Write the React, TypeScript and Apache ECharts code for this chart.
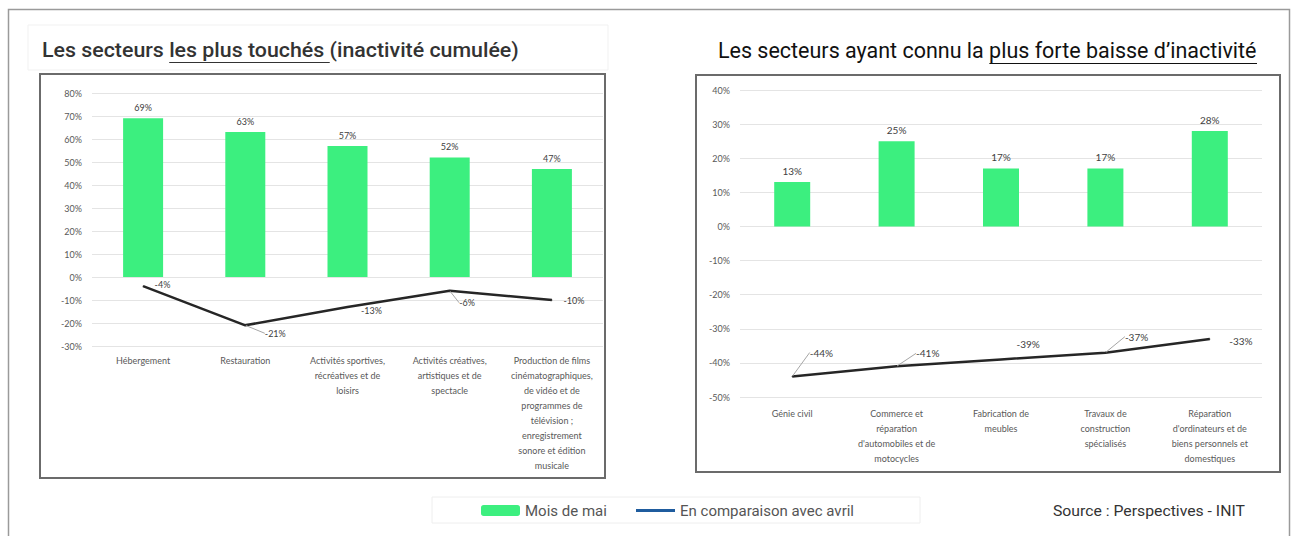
import React, { useEffect, useRef } from "react";
import * as echarts from "echarts";

const catsLeft = [
  "Hébergement",
  "Restauration",
  "Activités sportives,\nrécréatives et de\nloisirs",
  "Activités créatives,\nartistiques et de\nspectacle",
  "Production de films\ncinématographiques,\nde vidéo et de\nprogrammes de\ntélévision ;\nenregistrement\nsonore et édition\nmusicale",
];
const barLeft = [69, 63, 57, 52, 47];
const lineLeft = [-4, -21, -13, -6, -10];

const catsRight = [
  "Génie civil",
  "Commerce et\nréparation\nd'automobiles et de\nmotocycles",
  "Fabrication de\nmeubles",
  "Travaux de\nconstruction\nspécialisés",
  "Réparation\nd'ordinateurs et de\nbiens personnels et\ndomestiques",
];
const barRight = [13, 25, 17, 17, 28];
const lineRight = [-44, -41, -39, -37, -33];

const barName = "Mois de mai";
const lineName = "En comparaison avec avril";
const titleLeftParts = ["Les secteurs ", "les plus touchés ", "(inactivité cumulée)"];
const titleRightParts = ["Les secteurs ayant connu la ", "plus forte baisse d’inactivité"];
const sourceText = "Source : Perspectives - INIT";

// label displacement (style only)
const leftLabelShift = [[6, -2], [14, 8], [8, 4], [4, 12], [6, 0]];
const leftGuide = [false, true, false, true, false];
const rightLabelShift = [[12, -24], [14, -13], [10, -15], [14, -16], [14, 2]];
const rightGuide = [true, true, false, true, false];

const GREEN = "#3cef7f";
const LINE = "#262626";
const FONT = "Lato";

function measure(text: string, font: string) {
  const c = document.createElement("canvas").getContext("2d")!;
  c.font = font;
  return c.measureText(text).width;
}

export default function App() {
  const ref = useRef<HTMLDivElement>(null);
  useEffect(() => {
    if (!ref.current) return;
    const chart = echarts.init(ref.current, null, { renderer: "svg" });

    const tFont = (w: number, s: number) => `${w} ${s}px Roboto`;
    const ltSize = 21, ltW = 500;
    const ltFull = titleLeftParts.join("");
    const ltScale = 477 / measure(ltFull, tFont(ltW, ltSize));
    const ltU0 = 42 + measure(titleLeftParts[0], tFont(ltW, ltSize)) * ltScale;
    const ltU1 = 42 + measure(titleLeftParts[0] + titleLeftParts[1], tFont(ltW, ltSize)) * ltScale;
    const rtSize = 22, rtW = 400;
    const rtFull = titleRightParts.join("");
    const rtScale = 539 / measure(rtFull, tFont(rtW, rtSize));
    const rtU0 = 718 + measure(titleRightParts[0], tFont(rtW, rtSize)) * rtScale;
    const rtU1 = 718 + measure(rtFull, tFont(rtW, rtSize)) * rtScale;
    const srcSize = 14;
    const srcScale = 192 / measure(sourceText, tFont(400, srcSize));

    const axisLabel = {
      interval: 0,
      fontSize: 9,
      lineHeight: 15,
      color: "#595959",
      fontFamily: FONT,
    };

    const lineSeries = (
      idx: number,
      values: number[],
      shift: number[][],
      guide: boolean[],
      fs: number
    ) => ({
      type: "line",
      name: lineName,
      xAxisIndex: idx,
      yAxisIndex: idx,
      color: LINE,
      symbol: "circle",
      symbolSize: 1,
      showSymbol: true,
      itemStyle: { color: LINE },
      lineStyle: { color: LINE, width: 2.5 },
      data: values.map((v, i) => ({
        value: v,
        labelLine: { show: guide[i] },
      })),
      label: {
        show: true,
        position: "right",
        distance: 5,
        formatter: "{c}%",
        fontSize: fs,
        fontFamily: FONT,
        color: "#404040",
      },
      labelLine: { show: true, lineStyle: { color: "#a6a6a6", width: 1 } },
      labelLayout: (p: any) => ({ dx: shift[p.dataIndex][0], dy: shift[p.dataIndex][1] }),
      z: 3,
    });

    const barSeries = (idx: number, values: number[], width: number, fs: number) => ({
      type: "bar",
      name: barName,
      xAxisIndex: idx,
      yAxisIndex: idx,
      barWidth: width,
      data: values,
      itemStyle: { color: GREEN },
      label: {
        show: true,
        position: "top",
        distance: 6,
        formatter: "{c}%",
        fontSize: fs,
        fontFamily: FONT,
        color: "#404040",
      },
    });

    chart.setOption({
      animation: false,
      grid: [
        { left: 92, top: 93, width: 511, height: 253 },
        { left: 740, top: 90, width: 522, height: 307 },
      ],
      xAxis: [
        {
          type: "category",
          gridIndex: 0,
          data: catsLeft,
          axisLine: { show: false, onZero: false },
          axisTick: { show: false },
          axisLabel: { ...axisLabel, margin: 7 },
        },
        {
          type: "category",
          gridIndex: 1,
          data: catsRight,
          axisLine: { show: false, onZero: false },
          axisTick: { show: false },
          axisLabel: { ...axisLabel, margin: 9 },
        },
      ],
      yAxis: [
        {
          type: "value",
          gridIndex: 0,
          min: -30,
          max: 80,
          interval: 10,
          axisLabel: { formatter: "{value}%", fontSize: 9, color: "#595959", fontFamily: FONT, margin: 10 },
          splitLine: { lineStyle: { color: "#e4e4e4", width: 1 } },
          axisLine: { show: false },
          axisTick: { show: false },
        },
        {
          type: "value",
          gridIndex: 1,
          min: -50,
          max: 40,
          interval: 10,
          axisLabel: { formatter: "{value}%", fontSize: 9, color: "#595959", fontFamily: FONT, margin: 10 },
          splitLine: { lineStyle: { color: "#e4e4e4", width: 1 } },
          axisLine: { show: false },
          axisTick: { show: false },
        },
      ],
      legend: [
        {
          data: [barName],
          left: 476,
          top: 498,
          itemWidth: 39,
          itemHeight: 11,
          selectedMode: false,
          textStyle: { fontSize: 15, color: "#555", fontFamily: "Roboto" },
        },
        {
          data: [lineName],
          left: 631,
          top: 498,
          icon: "rect",
          itemWidth: 39,
          itemHeight: 3,
          selectedMode: false,
          itemStyle: { color: "#1f5c9e" },
          textStyle: { fontSize: 15, color: "#555", fontFamily: "Roboto" },
        },
      ],
      graphic: [
        {
          type: "rect",
          silent: true,
          shape: { x: 8.5, y: 9.5, width: 1281, height: 540 },
          style: { fill: "none", stroke: "#9a9a9a", lineWidth: 1.5 },
        },
        {
          type: "rect",
          silent: true,
          shape: { x: 28, y: 25, width: 580, height: 45 },
          style: { fill: "none", stroke: "#f1f1f1", lineWidth: 1 },
        },
        {
          type: "rect",
          silent: true,
          shape: { x: 40, y: 74, width: 565, height: 404 },
          style: { fill: "none", stroke: "#6b6b6b", lineWidth: 2 },
        },
        {
          type: "rect",
          silent: true,
          shape: { x: 696, y: 75, width: 584, height: 397 },
          style: { fill: "none", stroke: "#6b6b6b", lineWidth: 2 },
        },
        {
          type: "rect",
          silent: true,
          shape: { x: 432, y: 497, width: 488, height: 26 },
          style: { fill: "none", stroke: "#eeeeee", lineWidth: 1 },
        },
        {
          type: "text",
          x: 42,
          y: 50,
          scaleX: ltScale,
          style: {
            text: ltFull,
            fontSize: ltSize,
            fontWeight: ltW,
            fontFamily: "Roboto",
            fill: "#333333",
            verticalAlign: "middle",
          },
        },
        {
          type: "line",
          shape: { x1: ltU0, y1: 62.5, x2: ltU1, y2: 62.5 },
          style: { stroke: "#333333", lineWidth: 1.2 },
        },
        {
          type: "text",
          x: 718,
          y: 50,
          scaleX: rtScale,
          style: {
            text: rtFull,
            fontSize: rtSize,
            fontWeight: rtW,
            fontFamily: "Roboto",
            fill: "#111111",
            verticalAlign: "middle",
          },
        },
        {
          type: "line",
          shape: { x1: rtU0, y1: 63.5, x2: rtU1, y2: 63.5 },
          style: { stroke: "#111111", lineWidth: 1.2 },
        },
        {
          type: "text",
          x: 1053,
          y: 511,
          scaleX: srcScale,
          style: {
            text: sourceText,
            fontSize: srcSize,
            fontFamily: "Roboto",
            fill: "#333333",
            verticalAlign: "middle",
          },
        },
      ],
      series: [
        barSeries(0, barLeft, 40, 9),
        lineSeries(0, lineLeft, leftLabelShift, leftGuide, 9),
        barSeries(1, barRight, 36, 10),
        lineSeries(1, lineRight, rightLabelShift, rightGuide, 10),
      ],
    });
    return () => chart.dispose();
  }, []);
  return (
    <div
      ref={ref}
      style={{ position: "fixed", left: 0, top: 0, width: 1295, height: 536, background: "#fff" }}
    />
  );
}
